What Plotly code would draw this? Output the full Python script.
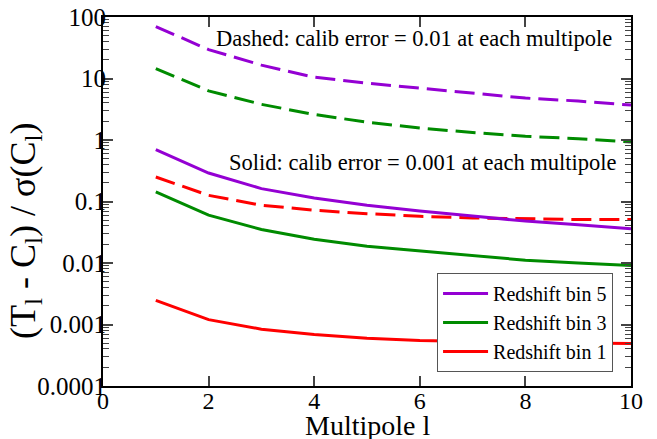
import plotly.graph_objects as go

multipole = [1, 2, 3, 4, 5, 6, 7, 8, 9, 10]

bin5_dashed = [70, 29.5, 16.5, 10.5, 8.4, 7.0, 5.7, 4.8, 4.3, 3.7]
bin3_dashed = [14.5, 6.3, 3.8, 2.6, 1.95, 1.57, 1.32, 1.15, 1.05, 0.93]
bin1_dashed = [0.25, 0.126, 0.087, 0.072, 0.0635, 0.0575, 0.054, 0.052, 0.051, 0.051]

bin5_solid = [0.70, 0.29, 0.162, 0.114, 0.087, 0.070, 0.058, 0.048, 0.042, 0.036]
bin3_solid = [0.143, 0.060, 0.035, 0.0243, 0.0187, 0.0157, 0.0129, 0.0111, 0.0100, 0.0091]
bin1_solid = [0.00247, 0.0012, 0.00084, 0.00069, 0.0006, 0.00055, 0.00053, 0.00051, 0.0005, 0.00049]

y_tickvals = [1e-4, 1e-3, 1e-2, 1e-1, 1, 10, 100]
y_ticktext = ["0.0001", "0.001", "0.01", "0.1", "1", "10", "100"]
x_tickvals = [0, 2, 4, 6, 8, 10]

PURPLE = "#9400D3"
GREEN = "#008B00"
RED = "#FF0000"
FONT = "Liberation Serif, Times New Roman, serif"

fig = go.Figure()
dash = "20px,8px"
for ys, c in [(bin5_dashed, PURPLE), (bin3_dashed, GREEN), (bin1_dashed, RED)]:
    fig.add_trace(go.Scatter(x=multipole, y=ys, mode="lines", showlegend=False,
                             line=dict(color=c, width=3, dash=dash)))
for ys, c, name in [(bin5_solid, PURPLE, "Redshift bin 5"),
                    (bin3_solid, GREEN, "Redshift bin 3"),
                    (bin1_solid, RED, "Redshift bin 1")]:
    fig.add_trace(go.Scatter(x=multipole, y=ys, mode="lines", name=name,
                             line=dict(color=c, width=3)))

fig.update_layout(
    width=657, height=439,
    margin=dict(l=103, r=26, t=17, b=53),
    paper_bgcolor="white", plot_bgcolor="white",
    font=dict(family=FONT, color="black", size=20),
    legend=dict(x=0.966, xanchor="right", y=0.038, yanchor="bottom",
                bgcolor="white", bordercolor="#555", borderwidth=1,
                font=dict(size=20, family=FONT), tracegroupgap=0,
                itemwidth=45),
    xaxis=dict(range=[0, 10], tickvals=x_tickvals, ticks="inside", ticklen=10,
               tickwidth=1.5, mirror="allticks", showline=True, linewidth=2,
               linecolor="black", showgrid=False, zeroline=False,
               tickfont=dict(size=24, family=FONT), automargin=False,
               ticklabelstandoff=-8),
    yaxis=dict(type="log", range=[-4, 2], tickvals=y_tickvals, ticktext=y_ticktext,
               ticks="inside", ticklen=10, tickwidth=1.5, mirror="allticks",
               showline=True, linewidth=2, linecolor="black", showgrid=False,
               zeroline=False, tickfont=dict(size=25, family=FONT), automargin=False,
               ticklabelstandoff=-10,
               minor=dict(ticks="inside", ticklen=6, tickwidth=1, tickmode="linear",
                          dtick="D1", showgrid=False)),
    annotations=[
        dict(text="Dashed: calib error = 0.01 at each multipole", x=(613 - 103) / 527,
             y=1.649, xref="paper", yref="y", yanchor="middle", xanchor="right",
             showarrow=False, font=dict(size=22.5, family=FONT)),
        dict(text="Solid: calib error = 0.001 at each multipole", x=(618 - 103) / 527,
             y=-0.367, xref="paper", yref="y", yanchor="middle", xanchor="right",
             showarrow=False, font=dict(size=22.5, family=FONT)),
        dict(text="Multipole l", x=0.5, y=-0.107, xref="paper", yref="paper",
             xanchor="center", yanchor="middle", showarrow=False,
             font=dict(size=28, family=FONT)),
        dict(text="(T<sub>l</sub> - C<sub>l</sub>) / σ(C<sub>l</sub>)",
             x=-0.148, y=0.42, xref="paper", yref="paper", textangle=-90,
             xanchor="center", yanchor="middle", showarrow=False,
             font=dict(size=36, family=FONT)),
    ],
)
fig.write_html("out.html", config={"displayModeBar": False},
               post_script="document.body.style.margin='0';document.body.style.padding='0';")
